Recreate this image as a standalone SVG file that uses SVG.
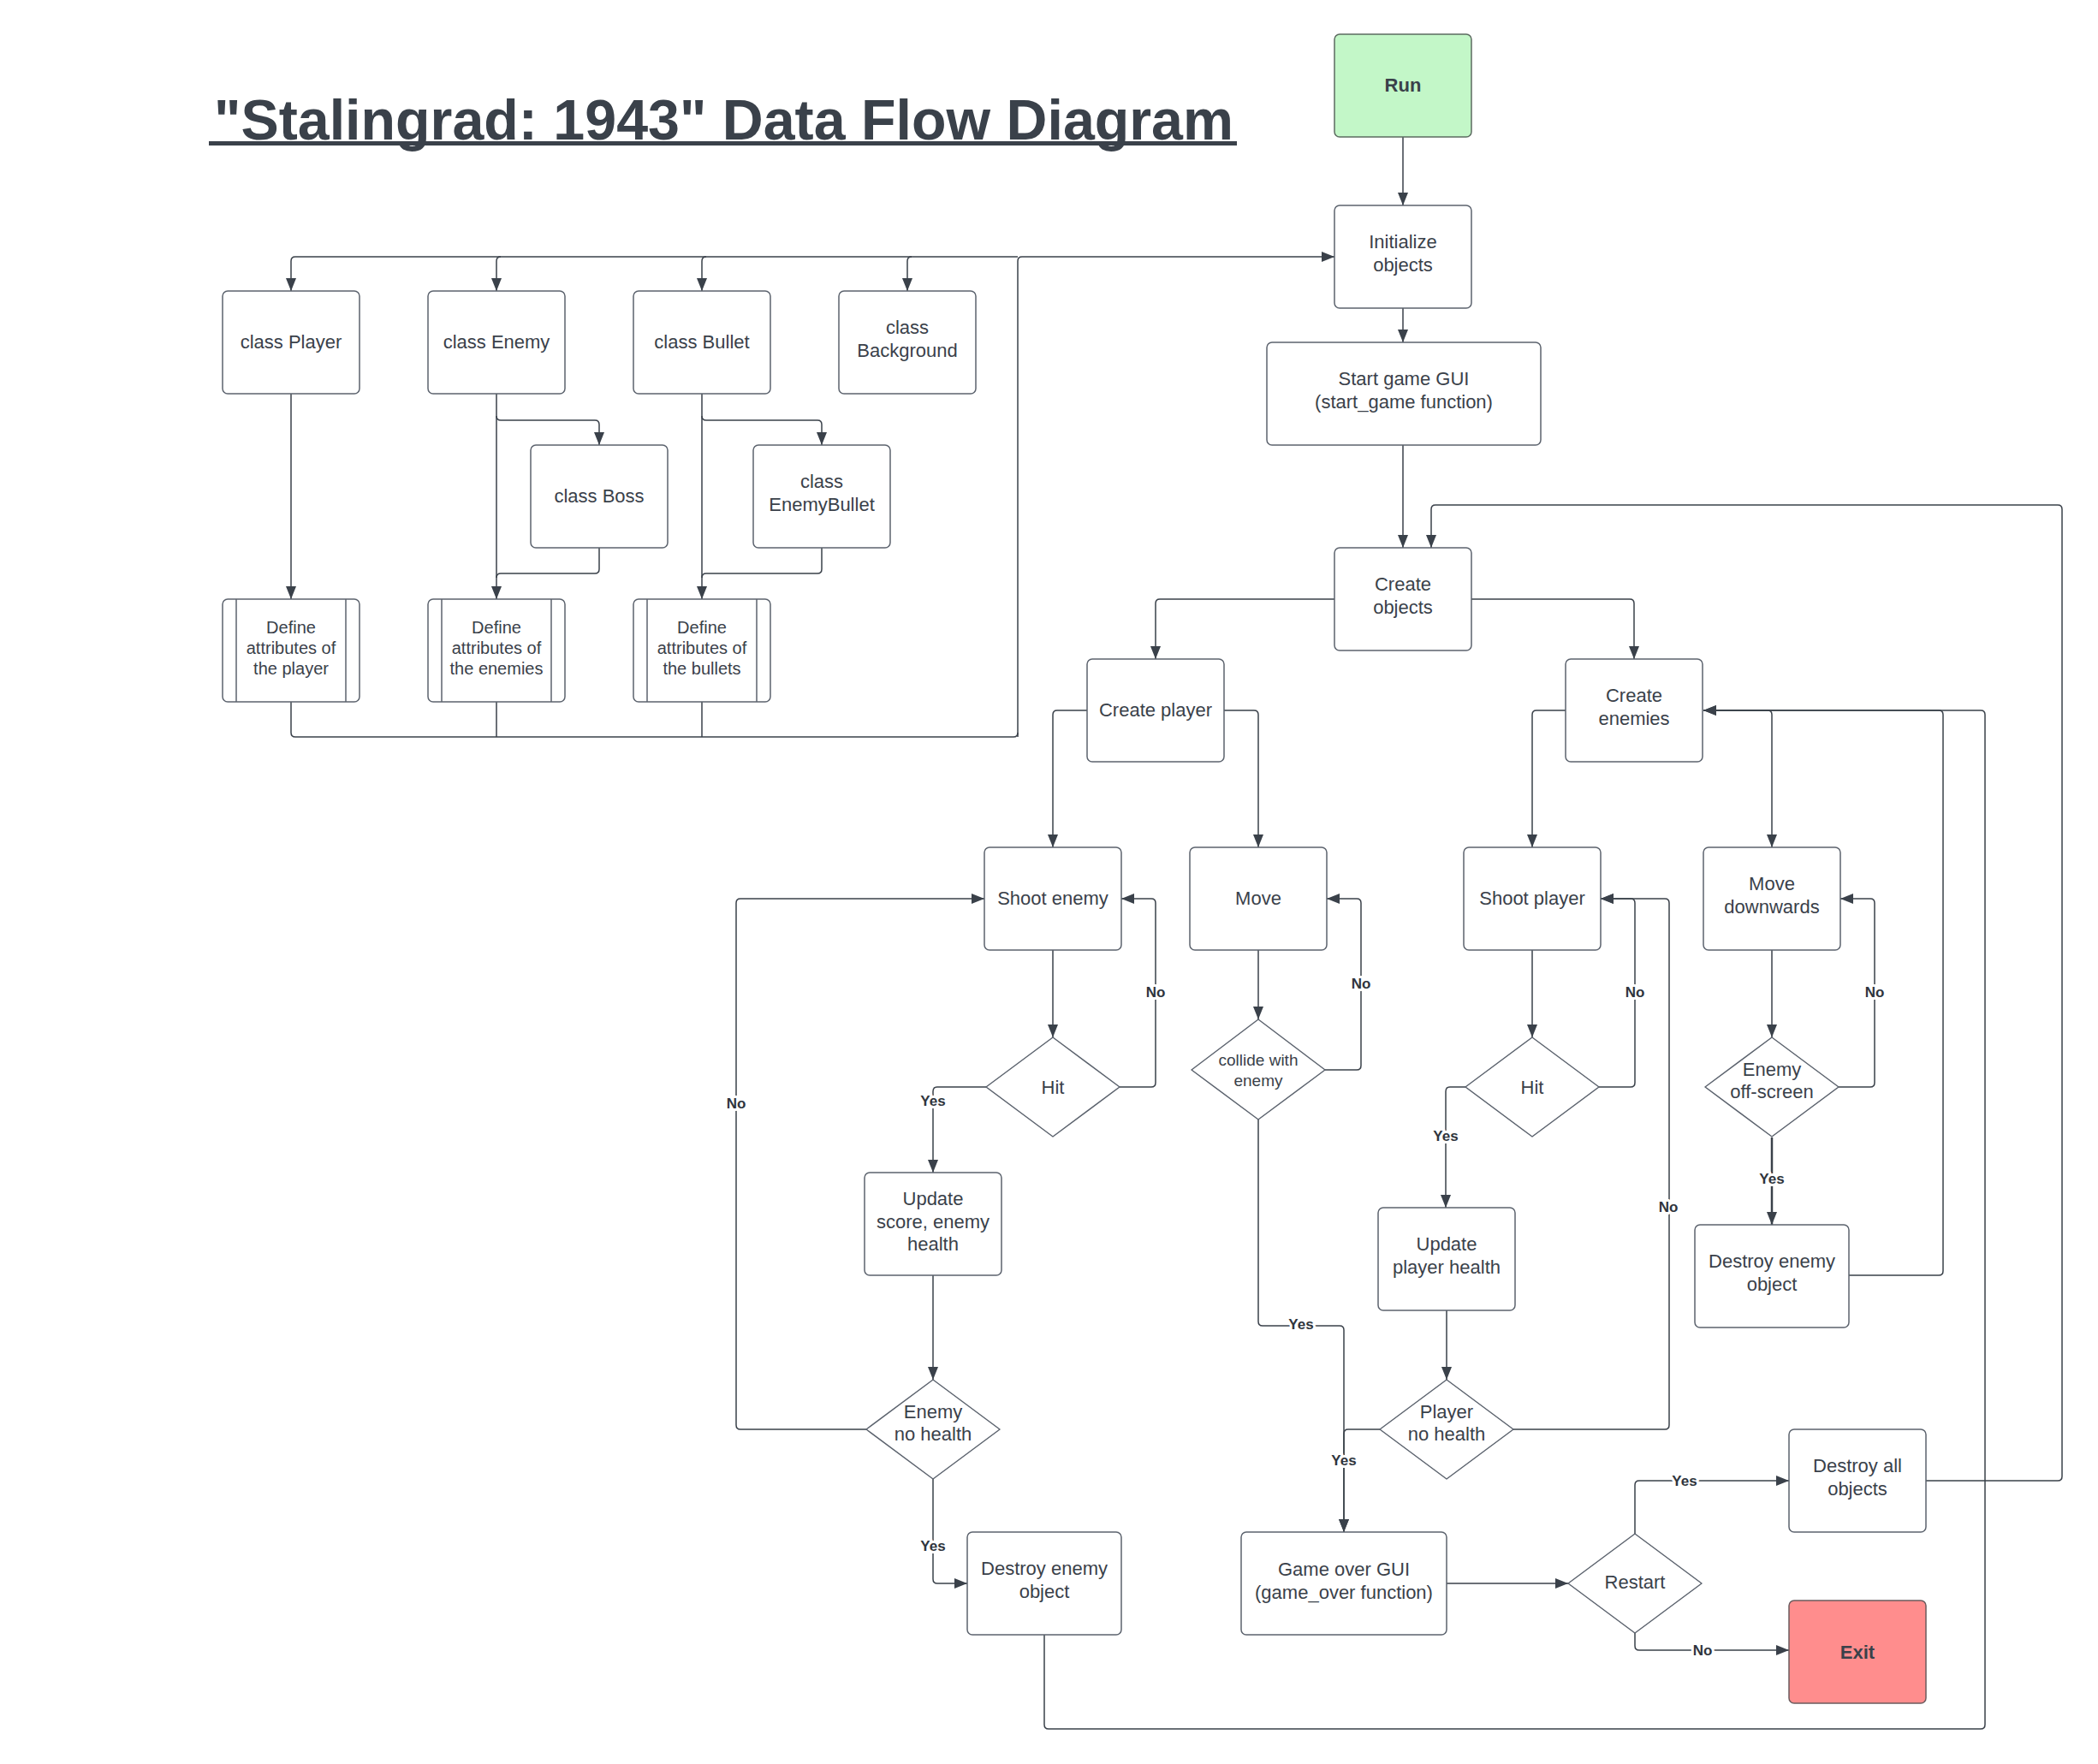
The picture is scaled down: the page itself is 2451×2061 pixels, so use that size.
<svg xmlns="http://www.w3.org/2000/svg" width="2451" height="2061" viewBox="0 0 2451 2061">
<defs>
<marker id="arr" markerUnits="userSpaceOnUse" markerWidth="16" markerHeight="12" refX="15" refY="6" orient="auto">
<path d="M0,0 L15,6 L0,12 z" fill="#3a414a"/>
</marker>
<style>
.box{fill:#ffffff;stroke:#5c636e;stroke-width:1.5}
.t{font-family:"Liberation Sans",Arial,sans-serif;font-size:22px;fill:#3a414a;text-anchor:middle}
.s{font-size:20px}
.xs{font-size:19px}
.b{font-weight:bold}
.c{fill:none;stroke:#3a414a;stroke-width:1.5;stroke-linejoin:round}
.a{marker-end:url(#arr)}
.lbl{font-family:"Liberation Sans",Arial,sans-serif;font-size:17px;font-weight:bold;fill:#2f353d;text-anchor:middle;stroke:#ffffff;stroke-width:6;paint-order:stroke;stroke-linejoin:round}
</style>
</defs>
<rect width="2451" height="2061" fill="#ffffff"/>
<g id="title">
<text x="250" y="163" font-family="Liberation Sans, Arial, sans-serif" font-size="66" font-weight="bold" fill="#3a414a" textLength="1191" lengthAdjust="spacingAndGlyphs">"Stalingrad: 1943" Data Flow Diagram</text>
<rect x="244" y="165" width="1201" height="5" fill="#3a414a"/>
</g>
<g id="connectors">
<path class="c a" d="M1639,160 V240"/>
<path class="c a" d="M1639,360 V400"/>
<path class="c a" d="M1639,520 V640"/>
<path class="c a" d="M1559,700 H1355 Q1350,700 1350,705 V770"/>
<path class="c a" d="M1719,700 H1904 Q1909,700 1909,705 V770"/>
<path class="c a" d="M1270,830 H1235 Q1230,830 1230,835 V990"/>
<path class="c a" d="M1430,830 H1465 Q1470,830 1470,835 V990"/>
<path class="c a" d="M1230,1110 V1212"/>
<path class="c a" d="M1308,1270 H1345 Q1350,1270 1350,1265 V1055 Q1350,1050 1345,1050 H1310"/>
<path class="c a" d="M1152,1270 H1095 Q1090,1270 1090,1275 V1370"/>
<path class="c a" d="M1090,1490 V1612"/>
<path class="c a" d="M1012,1670 H865 Q860,1670 860,1665 V1055 Q860,1050 865,1050 H1150"/>
<path class="c a" d="M1090,1728 V1845 Q1090,1850 1095,1850 H1130"/>
<path class="c a" d="M1220,1910 V2015 Q1220,2020 1225,2020 H2314 Q2319,2020 2319,2015 V835 Q2319,830 2314,830 H1990"/>
<path class="c a" d="M1470,1110 V1191"/>
<path class="c a" d="M1548,1250 H1585 Q1590,1250 1590,1245 V1055 Q1590,1050 1585,1050 H1550"/>
<path class="c a" d="M1470,1308 V1544 Q1470,1549 1475,1549 H1565 Q1570,1549 1570,1554 V1790"/>
<path class="c a" d="M1829,830 H1795 Q1790,830 1790,835 V990"/>
<path class="c a" d="M1990,830 H2065 Q2070,830 2070,835 V990"/>
<path class="c a" d="M1790,1110 V1212"/>
<path class="c a" d="M1868,1270 H1905 Q1910,1270 1910,1265 V1055 Q1910,1050 1905,1050 H1870"/>
<path class="c a" d="M1712,1270 H1694 Q1689,1270 1689,1275 V1411"/>
<path class="c a" d="M1690,1530 V1612"/>
<path class="c a" d="M1768,1670 H1945 Q1950,1670 1950,1665 V1055 Q1950,1050 1945,1050 H1870"/>
<path class="c a" d="M1612,1670 H1575 Q1570,1670 1570,1675 V1790"/>
<path class="c a" d="M2070,1110 V1212"/>
<path class="c a" d="M2148,1270 H2185 Q2190,1270 2190,1265 V1055 Q2190,1050 2185,1050 H2150"/>
<path class="c a" style="stroke-width:2.5" d="M2070,1329 V1431"/>
<path class="c a" d="M2160,1490 H2265 Q2270,1490 2270,1485 V835 Q2270,830 2265,830 H1990"/>
<path class="c a" d="M1690,1850 H1832"/>
<path class="c a" d="M1910,1792 V1735 Q1910,1730 1915,1730 H2090"/>
<path class="c a" d="M1910,1908 V1923 Q1910,1928 1915,1928 H2090"/>
<path class="c a" d="M2250,1730 H2404 Q2409,1730 2409,1725 V595 Q2409,590 2404,590 H1677 Q1672,590 1672,595 V640"/>
<path class="c a" d="M1189,861 V305 Q1189,300 1194,300 H1559"/>
<path class="c a" d="M1189,300 H345 Q340,300 340,305 V340"/>
<path class="c a" d="M585,300 Q580,300 580,305 V340"/>
<path class="c a" d="M825,300 Q820,300 820,305 V340"/>
<path class="c a" d="M1065,300 Q1060,300 1060,305 V340"/>
<path class="c" d="M340,820 V856 Q340,861 345,861 H1184 Q1189,861 1189,856"/>
<path class="c" d="M580,820 V861"/>
<path class="c" d="M820,820 V861"/>
<path class="c a" d="M340,460 V700"/>
<path class="c a" d="M580,460 V700"/>
<path class="c a" d="M580,486 Q580,491 585,491 H695 Q700,491 700,496 V520"/>
<path class="c" d="M700,640 V665 Q700,670 695,670 H585 Q580,670 580,675"/>
<path class="c a" d="M820,460 V700"/>
<path class="c a" d="M820,486 Q820,491 825,491 H955 Q960,491 960,496 V520"/>
<path class="c" d="M960,640 V665 Q960,670 955,670 H825 Q820,670 820,675"/>
<text class="lbl" x="1350" y="1165">No</text>
<text class="lbl" x="1090" y="1292">Yes</text>
<text class="lbl" x="860" y="1295">No</text>
<text class="lbl" x="1090" y="1812">Yes</text>
<text class="lbl" x="1590" y="1155">No</text>
<text class="lbl" x="1520" y="1553">Yes</text>
<text class="lbl" x="1910" y="1165">No</text>
<text class="lbl" x="1689" y="1333">Yes</text>
<text class="lbl" x="1949" y="1416">No</text>
<text class="lbl" x="1570" y="1712">Yes</text>
<text class="lbl" x="2190" y="1165">No</text>
<text class="lbl" x="2070" y="1383">Yes</text>
<text class="lbl" x="1968" y="1736">Yes</text>
<text class="lbl" x="1989" y="1934">No</text>
</g>
<g id="run"><rect x="1559" y="40" width="160" height="120" rx="6" fill="#c3f7c8" stroke="#5c6b60" stroke-width="1.5"/><text class="t b" x="1639" y="107">Run</text></g>
<g id="init"><rect class="box" x="1559" y="240" width="160" height="120" rx="6"/><text class="t" x="1639" y="290">Initialize</text><text class="t" x="1639" y="317">objects</text></g>
<g id="startgui"><rect class="box" x="1480" y="400" width="320" height="120" rx="6"/><text class="t" x="1640" y="450">Start game GUI</text><text class="t" x="1640" y="477">(start_game function)</text></g>
<g id="createobjects"><rect class="box" x="1559" y="640" width="160" height="120" rx="6"/><text class="t" x="1639" y="690">Create</text><text class="t" x="1639" y="717">objects</text></g>
<g id="createplayer"><rect class="box" x="1270" y="770" width="160" height="120" rx="6"/><text class="t" x="1350" y="837">Create player</text></g>
<g id="createenemies"><rect class="box" x="1829" y="770" width="160" height="120" rx="6"/><text class="t" x="1909" y="820">Create</text><text class="t" x="1909" y="847">enemies</text></g>
<g id="classplayer"><rect class="box" x="260" y="340" width="160" height="120" rx="6"/><text class="t" x="340" y="407">class Player</text></g>
<g id="classenemy"><rect class="box" x="500" y="340" width="160" height="120" rx="6"/><text class="t" x="580" y="407">class Enemy</text></g>
<g id="classbullet"><rect class="box" x="740" y="340" width="160" height="120" rx="6"/><text class="t" x="820" y="407">class Bullet</text></g>
<g id="classbackground"><rect class="box" x="980" y="340" width="160" height="120" rx="6"/><text class="t" x="1060" y="390">class</text><text class="t" x="1060" y="417">Background</text></g>
<g id="classboss"><rect class="box" x="620" y="520" width="160" height="120" rx="6"/><text class="t" x="700" y="587">class Boss</text></g>
<g id="classenemybullet"><rect class="box" x="880" y="520" width="160" height="120" rx="6"/><text class="t" x="960" y="570">class</text><text class="t" x="960" y="597">EnemyBullet</text></g>
<g id="defplayer"><rect class="box" x="260" y="700" width="160" height="120" rx="6"/><path class="box" d="M276,700 V820 M404,700 V820"/><text class="t s" x="340" y="740">Define</text><text class="t s" x="340" y="764">attributes of</text><text class="t s" x="340" y="788">the player</text></g>
<g id="defenemies"><rect class="box" x="500" y="700" width="160" height="120" rx="6"/><path class="box" d="M516,700 V820 M644,700 V820"/><text class="t s" x="580" y="740">Define</text><text class="t s" x="580" y="764">attributes of</text><text class="t s" x="580" y="788">the enemies</text></g>
<g id="defbullets"><rect class="box" x="740" y="700" width="160" height="120" rx="6"/><path class="box" d="M756,700 V820 M884,700 V820"/><text class="t s" x="820" y="740">Define</text><text class="t s" x="820" y="764">attributes of</text><text class="t s" x="820" y="788">the bullets</text></g>
<g id="shootenemy"><rect class="box" x="1150" y="990" width="160" height="120" rx="6"/><text class="t" x="1230" y="1057">Shoot enemy</text></g>
<g id="move"><rect class="box" x="1390" y="990" width="160" height="120" rx="6"/><text class="t" x="1470" y="1057">Move</text></g>
<g id="shootplayer"><rect class="box" x="1710" y="990" width="160" height="120" rx="6"/><text class="t" x="1790" y="1057">Shoot player</text></g>
<g id="movedown"><rect class="box" x="1990" y="990" width="160" height="120" rx="6"/><text class="t" x="2070" y="1040">Move</text><text class="t" x="2070" y="1067">downwards</text></g>
<g id="hit1"><path class="box" stroke-linejoin="round" d="M1230,1212 L1308,1270 L1230,1328 L1152,1270 Z"/><text class="t" x="1230" y="1278">Hit</text></g>
<g id="collide"><path class="box" stroke-linejoin="round" d="M1470,1191 L1548,1250 L1470,1308 L1392,1250 Z"/><text class="t xs" x="1470" y="1245">collide with</text><text class="t xs" x="1470" y="1269">enemy</text></g>
<g id="hit2"><path class="box" stroke-linejoin="round" d="M1790,1212 L1868,1270 L1790,1328 L1712,1270 Z"/><text class="t" x="1790" y="1278">Hit</text></g>
<g id="offscreen"><path class="box" stroke-linejoin="round" d="M2070,1212 L2148,1270 L2070,1328 L1992,1270 Z"/><text class="t" x="2070" y="1257">Enemy</text><text class="t" x="2070" y="1283">off-screen</text></g>
<g id="updatescore"><rect class="box" x="1010" y="1370" width="160" height="120" rx="6"/><text class="t" x="1090" y="1408">Update</text><text class="t" x="1090" y="1435">score, enemy</text><text class="t" x="1090" y="1461">health</text></g>
<g id="updateplayer"><rect class="box" x="1610" y="1411" width="160" height="120" rx="6"/><text class="t" x="1690" y="1461">Update</text><text class="t" x="1690" y="1488">player health</text></g>
<g id="destroyenemy2"><rect class="box" x="1980" y="1431" width="180" height="120" rx="6"/><text class="t" x="2070" y="1481">Destroy enemy</text><text class="t" x="2070" y="1508">object</text></g>
<g id="enemynohealth"><path class="box" stroke-linejoin="round" d="M1090,1612 L1168,1670 L1090,1728 L1012,1670 Z"/><text class="t" x="1090" y="1657">Enemy</text><text class="t" x="1090" y="1683">no health</text></g>
<g id="playernohealth"><path class="box" stroke-linejoin="round" d="M1690,1612 L1768,1670 L1690,1728 L1612,1670 Z"/><text class="t" x="1690" y="1657">Player</text><text class="t" x="1690" y="1683">no health</text></g>
<g id="destroyenemy1"><rect class="box" x="1130" y="1790" width="180" height="120" rx="6"/><text class="t" x="1220" y="1840">Destroy enemy</text><text class="t" x="1220" y="1867">object</text></g>
<g id="gameover"><rect class="box" x="1450" y="1790" width="240" height="120" rx="6"/><text class="t" x="1570" y="1841">Game over GUI</text><text class="t" x="1570" y="1868">(game_over function)</text></g>
<g id="restart"><path class="box" stroke-linejoin="round" d="M1910,1792 L1988,1850 L1910,1908 L1832,1850 Z"/><text class="t" x="1910" y="1856">Restart</text></g>
<g id="destroyall"><rect class="box" x="2090" y="1670" width="160" height="120" rx="6"/><text class="t" x="2170" y="1720">Destroy all</text><text class="t" x="2170" y="1747">objects</text></g>
<g id="exit"><rect x="2090" y="1870" width="160" height="120" rx="6" fill="#ff8d8d" stroke="#6b5b5e" stroke-width="1.5"/><text class="t b" x="2170" y="1938">Exit</text></g>
</svg>
